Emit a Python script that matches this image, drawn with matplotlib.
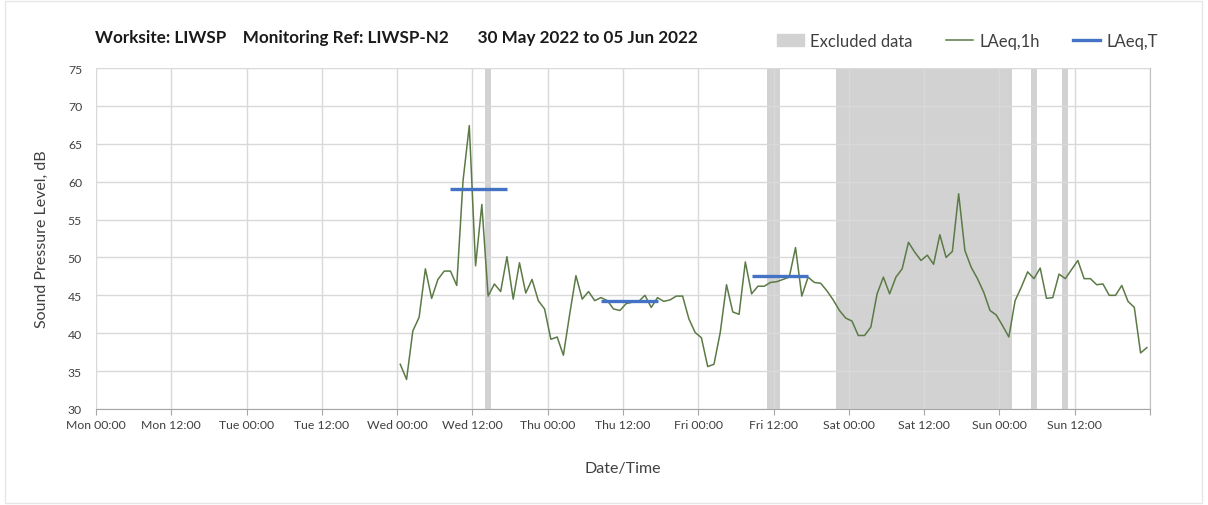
import numpy as np
import matplotlib.pyplot as plt
from matplotlib.patches import Patch, Rectangle
from matplotlib.lines import Line2D

plt.rcParams['font.family'] = ['Lato', 'DejaVu Sans']

# hourly LAeq,1h values, Wed 00:30 onwards (hours from Mon 00:00)
hours = np.arange(120) + 48.5
laeq_1h = [35.9, 33.9, 40.3, 42.1, 48.5, 44.6, 47.1, 48.2, 48.2, 46.3,
           60.1, 67.4, 48.9, 57.0, 44.9, 46.5, 45.5, 50.1, 44.5, 49.3,
           45.3, 47.1, 44.3, 43.2, 39.2, 39.5, 37.1, 42.5, 47.6, 44.5,
           45.5, 44.3, 44.7, 44.3, 43.2, 43.0, 43.9, 44.1, 44.2, 45.0,
           43.4, 44.7, 44.2, 44.4, 44.9, 44.9, 41.9, 40.1, 39.4, 35.6,
           35.9, 40.1, 46.4, 42.8, 42.5, 49.4, 45.2, 46.2, 46.2, 46.7,
           46.8, 47.1, 47.4, 51.3, 44.9, 47.4, 46.7, 46.6, 45.6, 44.4,
           43.0, 42.0, 41.6, 39.7, 39.7, 40.8, 45.2, 47.4, 45.2, 47.4,
           48.5, 52.0, 50.7, 49.6, 50.3, 49.1, 53.0, 50.0, 50.8, 58.4,
           50.9, 48.7, 47.2, 45.4, 43.0, 42.4, 41.0, 39.5, 44.3, 46.1,
           48.1, 47.2, 48.6, 44.6, 44.7, 47.8, 47.2, 48.4, 49.6, 47.2,
           47.2, 46.4, 46.5, 45.0, 45.0, 46.3, 44.2, 43.4, 37.4, 38.1]

# LAeq,T periods
laeq_t_start = [56.5, 80.5, 104.5]
laeq_t_end = [65.5, 89.5, 113.5]
laeq_t = [59.0, 44.2, 47.5]

# excluded periods
excl_start = [62, 107, 118, 149, 154]
excl_end = [63, 109, 146, 150, 155]

tick_labels = ['Mon 00:00', 'Mon 12:00', 'Tue 00:00', 'Tue 12:00', 'Wed 00:00',
               'Wed 12:00', 'Thu 00:00', 'Thu 12:00', 'Fri 00:00', 'Fri 12:00',
               'Sat 00:00', 'Sat 12:00', 'Sun 00:00', 'Sun 12:00', '']

W, H = 1208, 506
fig = plt.figure(figsize=(W / 100, H / 100), dpi=100)
fig.patches.append(Rectangle((5 / W, 2 / H), 1197 / W, 502 / H, transform=fig.transFigure,
                             fill=False, edgecolor='#e6e6e6', linewidth=1))

ax = fig.add_axes([96 / W, 1 - 410 / H, 1054 / W, 341 / H])

grey = '#d2d2d2'
green = '#5b7a45'
blue = '#4472c4'

for s, e in zip(excl_start, excl_end):
    ax.axvspan(s, e, color=grey, lw=0, zorder=0.2)

ax.plot(hours, laeq_1h, color=green, lw=1.1, zorder=2)
ax.hlines(laeq_t, laeq_t_start, laeq_t_end, color=blue, lw=2.4, zorder=3)

ax.set_xlim(0, 168)
ax.set_ylim(30, 75)
ax.set_xticks(np.arange(0, 169, 12))
ax.set_xticklabels(tick_labels)
ax.set_yticks(np.arange(30, 76, 5))
ax.set_axisbelow(True)
ax.grid(True, color='#d9d9d9', lw=1)

for side in ['top', 'left']:
    ax.spines[side].set_visible(False)
ax.spines['right'].set_color('#bfbfbf')
ax.spines['bottom'].set_color('#a6a6a6')
ax.tick_params(axis='x', colors='#404040', labelsize=8.8, length=4, color='#a6a6a6')
ax.tick_params(axis='y', colors='#404040', labelsize=8.8, length=0, pad=10)

ax.set_xlabel('Date/Time', fontsize=11.5, color='#404040', labelpad=22)
ax.set_ylabel('Sound Pressure Level, dB', fontsize=11.5, color='#404040', labelpad=14)

fig.text(95 / W, 1 - 38 / H, 'Worksite: LIWSP    Monitoring Ref: LIWSP-N2       30 May 2022 to 05 Jun 2022',
         fontsize=12.3, fontweight='bold', va='center', ha='left', color='#1a1a1a')

handles = [Patch(color=grey), Line2D([], [], color=green, lw=1.1), Line2D([], [], color=blue, lw=2.4)]
fig.legend(handles, ['Excluded data', 'LAeq,1h', 'LAeq,T'], loc='center left',
           bbox_to_anchor=(762 / W, 1 - 42 / H), ncol=3, frameon=False, fontsize=12,
           handlelength=1.6, columnspacing=2.0, handletextpad=0.4, labelcolor='#404040')

fig.savefig('out.png', dpi=100)
